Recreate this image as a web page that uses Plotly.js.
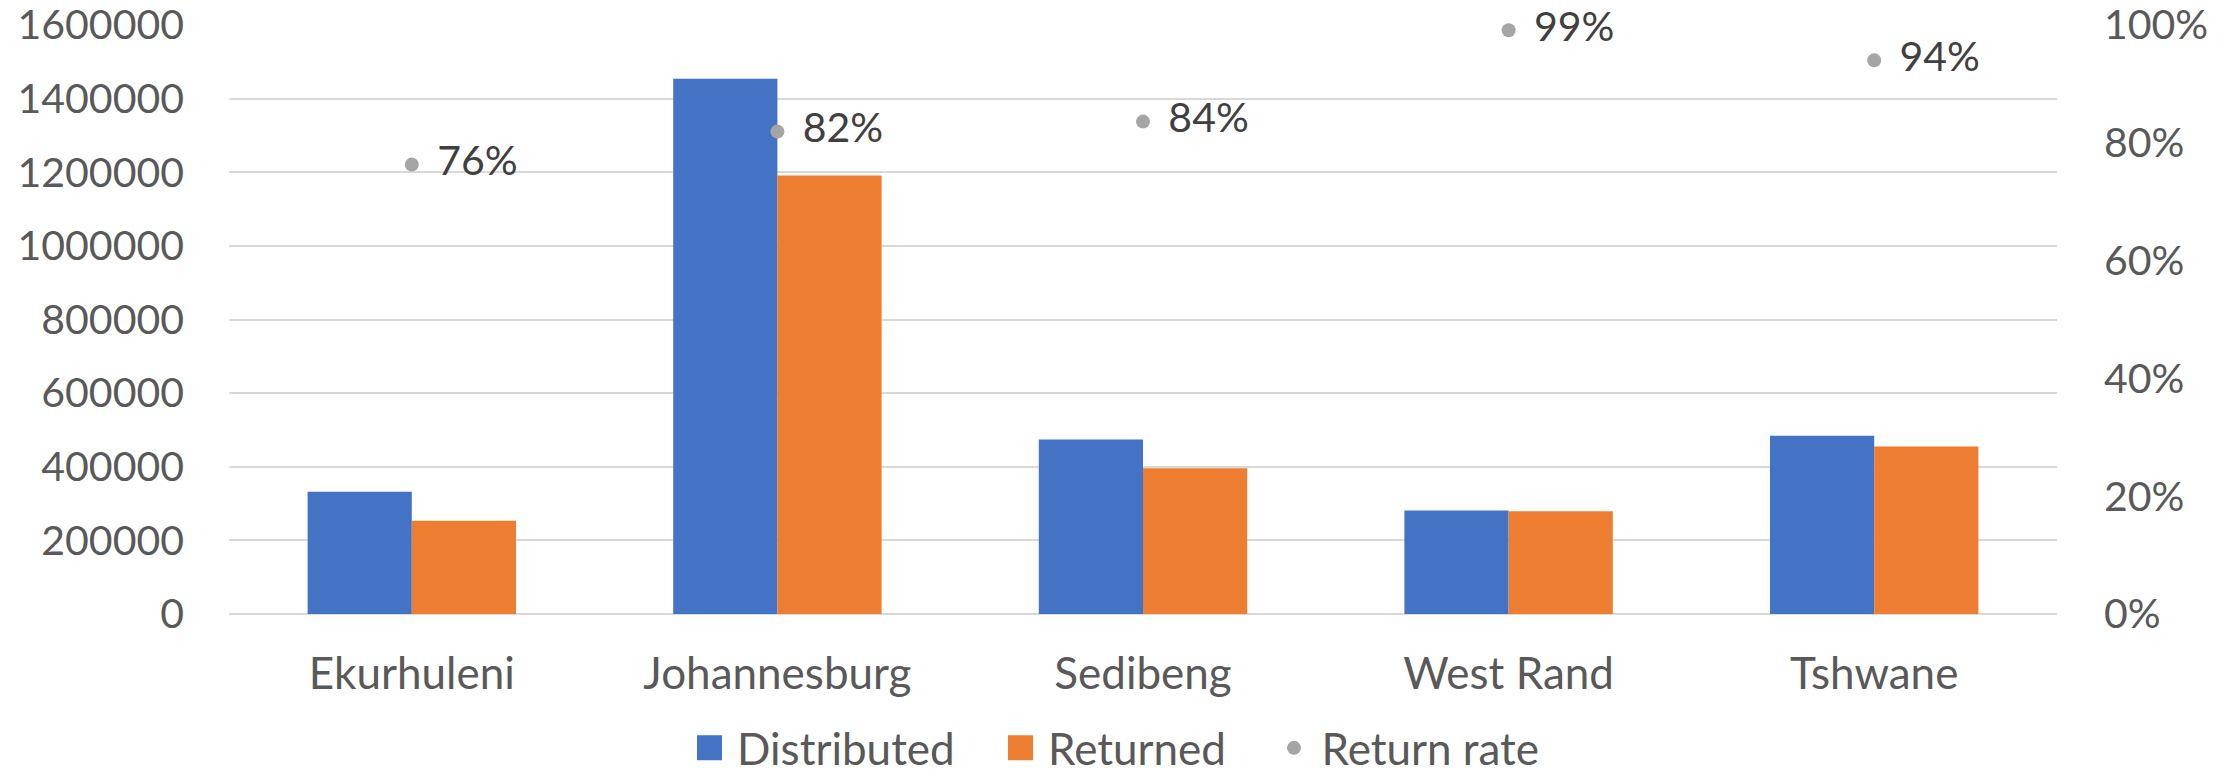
<!DOCTYPE html>
<html>
<head>
<meta charset="utf-8">
<script src="https://cdn.plot.ly/plotly-3.0.1.min.js"></script>
<style>
html,body{margin:0;padding:0;background:#fff;}
#chart{width:2238px;height:777px;}
</style>
</head>
<body>
<div id="chart"></div>
<script>
const categories = ["Ekurhuleni", "Johannesburg", "Sedibeng", "West Rand", "Tshwane"];
const distributed = [332000, 1454000, 474000, 281000, 484000];
const returned = [253000, 1191000, 396000, 279000, 455000];
const returnRate = [0.763, 0.819, 0.836, 0.991, 0.940];
const rateLabels = ["76%", "82%", "84%", "99%", "94%"];
const leftTicks = [0, 200000, 400000, 600000, 800000, 1000000, 1200000, 1400000, 1600000];
const rightTicks = [0, 0.2, 0.4, 0.6, 0.8, 1.0];

const FONT = "Lato, 'Open Sans', sans-serif";
const TXT = "#595959";

const traces = [
  {type: "bar", name: "Distributed", x: categories, y: distributed,
   marker: {color: "#4472C4"}, hoverinfo: "x+y"},
  {type: "bar", name: "Returned", x: categories, y: returned,
   marker: {color: "#ED7D31"}, hoverinfo: "x+y"},
  {type: "scatter", mode: "markers+text", name: "Return rate", x: categories, y: returnRate,
   yaxis: "y2", text: rateLabels.map(t => "\u00a0\u2009" + t), textposition: "middle right",
   textfont: {family: FONT, size: 41, color: "#404040"},
   marker: {color: "#A5A5A5", size: 14}, cliponaxis: false}
];

const layout = {
  width: 2238, height: 777,
  margin: {l: 229, r: 181, t: 25, b: 163, pad: 0},
  paper_bgcolor: "#ffffff", plot_bgcolor: "#ffffff",
  font: {family: FONT, size: 41, color: TXT},
  barmode: "group", bargap: 0.43, bargroupgap: 0,
  showlegend: true,
  legend: {orientation: "h", xref: "container", x: 0.3, xanchor: "left",
           yref: "container", y: 0, yanchor: "bottom",
           entrywidth: 320, entrywidthmode: "pixels",
           font: {family: FONT, size: 44, color: TXT}, itemwidth: 30, tracegroupgap: 0,
           bgcolor: "rgba(0,0,0,0)"},
  xaxis: {type: "category", showgrid: false, zeroline: false, showline: false, ticks: "",
          ticklabelstandoff: 30, automargin: false, tickfont: {family: FONT, size: 44, color: TXT}},
  yaxis: {range: [0, 1600000], tickvals: leftTicks, tickformat: "d", showgrid: true, automargin: false,
          gridcolor: "#D9D9D9", gridwidth: 2, zeroline: true, zerolinecolor: "#D9D9D9", zerolinewidth: 2,
          showline: false, ticks: "", ticklabelstandoff: 44, ticklabeloverflow: "allow",
          tickfont: {family: FONT, size: 41, color: TXT}},
  yaxis2: {range: [0, 1], overlaying: "y", side: "right", tickvals: rightTicks, tickformat: ".0%",
           showgrid: false, zeroline: false, showline: false, ticks: "", ticklabelstandoff: 46,
           automargin: false, ticklabeloverflow: "allow",
           tickfont: {family: FONT, size: 41, color: TXT}}
};

// legend symbol centres (px from left), text gap after symbol centre, vertical text centre
const legendTargetsX = [709.5, 1020.5, 1294];
const legendTextGap = 27.5;
const legendTargetY = 748;

function parseTranslate(s) {
  const m = /translate\(\s*([-\d.e]+)[ ,]*([-\d.e]*)\s*\)/.exec(s || "");
  return m ? [parseFloat(m[1]), parseFloat(m[2] || 0)] : [0, 0];
}

Plotly.newPlot("chart", traces, layout, {displayModeBar: false, staticPlot: true}).then(function(gd) {
  const base = gd.getBoundingClientRect();
  const legend = gd.querySelector(".legend");
  if (!legend) return;
  const items = Array.from(legend.querySelectorAll(".traces"));
  items.forEach(function(it, i) {
    const syms = it.querySelectorAll(".legendpoints path");
    if (i < 2) {
      syms.forEach(function(p) {
        p.setAttribute("d", "M12.5,12.5H-12.5V-12.5H12.5Z");
        p.removeAttribute("transform");
      });
    }
    const sym = syms[0];
    if (sym && legendTargetsX[i] !== undefined) {
      const r = sym.getBoundingClientRect();
      const cx = r.left + r.width / 2 - base.left;
      const t = parseTranslate(it.getAttribute("transform"));
      it.setAttribute("transform", "translate(" + (t[0] + legendTargetsX[i] - cx) + "," + t[1] + ")");
      const txt = it.querySelector("text.legendtext");
      if (txt) {
        const s2 = sym.getBoundingClientRect();
        const c2 = s2.left + s2.width / 2;
        const tr = txt.getBoundingClientRect();
        const dx = (c2 + legendTextGap) - tr.left;
        txt.setAttribute("x", parseFloat(txt.getAttribute("x") || 0) + dx);
      }
    }
  });
  const firstTxt = legend.querySelector("text.legendtext");
  if (firstTxt) {
    const r = firstTxt.getBoundingClientRect();
    const cy = r.top + r.height / 2 - base.top;
    const t = parseTranslate(legend.getAttribute("transform"));
    legend.setAttribute("transform", "translate(" + t[0] + "," + (t[1] + legendTargetY - cy) + ")");
  }
});
</script>
</body>
</html>
